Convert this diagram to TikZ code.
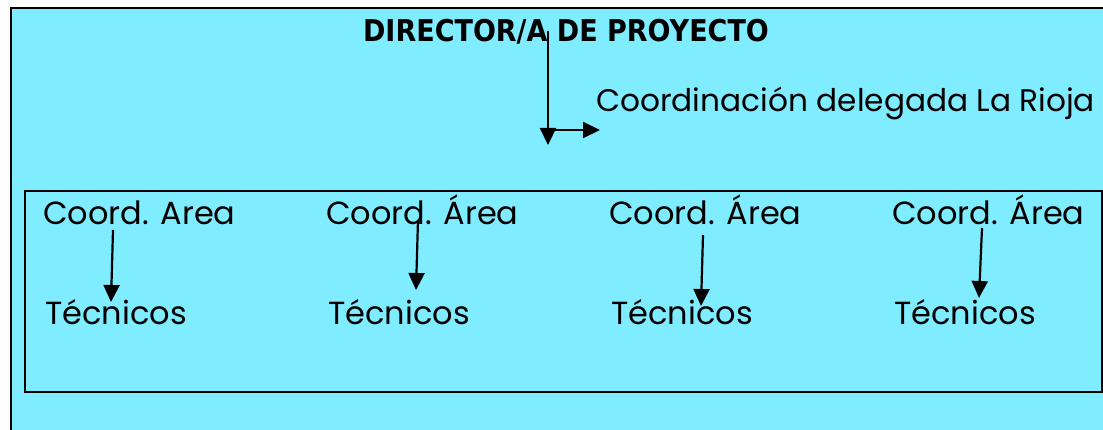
\documentclass[tikz,border=0pt]{standalone}
\usepackage{fontspec}
\setmainfont{Poppins}
\newfontfamily\titlefont[FakeStretch=0.9]{DejaVu Sans}
\usetikzlibrary{arrows.meta}
\definecolor{bgcyan}{RGB}{128,236,255}
\tikzset{
  lbl/.style={anchor=base west, inner sep=0pt, font=\fontsize{32}{32}\selectfont},
  arr/.style={line width=2.2pt, -{Triangle[length=17pt,width=16pt]}},
  frame/.style={draw=black, line width=1.6pt}
}
\begin{document}
\begin{tikzpicture}[x=1pt,y=-1pt]
\useasboundingbox (0,0) rectangle (1103,430);
\fill[white] (0,0) rectangle (1103,430);
\fill[bgcyan] (11,8) rectangle (1103,430);
\draw[frame] (11,430) -- (11,8) -- (1103,8);
\draw[frame] (25,191) rectangle (1102,392);
\node[anchor=base, inner sep=0pt, font=\titlefont\bfseries\fontsize{30}{30}\selectfont] (dir) at (566,42) {DIRECTOR/A DE PROYECTO};
\node[lbl, font=\fontsize{31.2}{32}\selectfont] (coord) at (596,112) {Coordinación delegada La Rioja};
\node[lbl] (ca1) at (43,225) {Coord. Area};
\node[lbl] (ca2) at (326,225) {Coord. Área};
\node[lbl] (ca3) at (609,225) {Coord. Área};
\node[lbl] (ca4) at (892,225) {Coord. Área};
\node[lbl] (t1) at (45,325) {Técnicos};
\node[lbl] (t2) at (328,325) {Técnicos};
\node[lbl] (t3) at (611,325) {Técnicos};
\node[lbl] (t4) at (894,325) {Técnicos};
\coordinate (v0) at (548,31);
\coordinate (v1) at (548,145);
\coordinate (h0) at (548,130);
\coordinate (h1) at (600,130);
\draw[arr] (v0) -- (v1);
\draw[arr] (h0) -- (h1);
\coordinate (a1) at (113,230); \coordinate (b1) at (111,302);
\coordinate (a2) at (418,220); \coordinate (b2) at (416,290);
\coordinate (a3) at (703,235); \coordinate (b3) at (701,306);
\coordinate (a4) at (982,228); \coordinate (b4) at (979,298);
\draw[arr] (a1) -- (b1);
\draw[arr] (a2) -- (b2);
\draw[arr] (a3) -- (b3);
\draw[arr] (a4) -- (b4);
\end{tikzpicture}
\end{document}
